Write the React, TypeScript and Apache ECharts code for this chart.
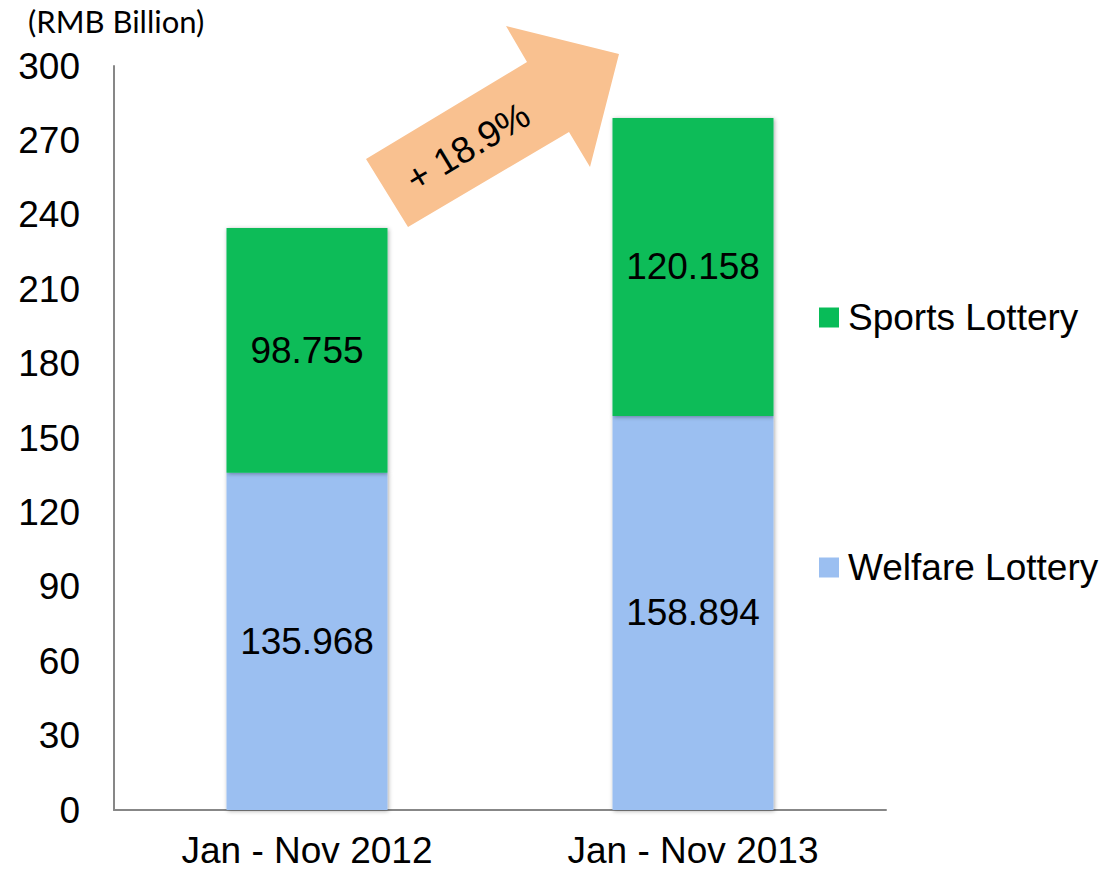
import React, { useEffect, useRef } from "react";
import * as echarts from "echarts";

const categories = ["Jan - Nov 2012", "Jan - Nov 2013"];
const welfareLottery = [135.968, 158.894];
const sportsLottery = [98.755, 120.158];
const yTicks = { min: 0, max: 300, interval: 30 };
const growthLabel = "+ 18.9%";
const unitLabel = "(RMB Billion)";

const GREEN = "#08bc58";
const BLUE = "#9bbff1";
const ORANGE = "#f9c190";
const AXIS = "#878787";
const FONT = "'Liberation Sans', Arial, sans-serif";
const FS = 37;

export default function App() {
  const ref = useRef<HTMLDivElement>(null);
  useEffect(() => {
    document.body.style.margin = "0";
    const chart = echarts.init(ref.current!, null, { renderer: "svg" });
    const barStyle = {
      shadowColor: "rgba(0,0,0,0.35)",
      shadowBlur: 4,
      shadowOffsetX: 1,
      shadowOffsetY: 1,
    };
    const label = {
      show: true,
      position: "inside",
      color: "#000",
      fontSize: FS,
      fontFamily: FONT,
      formatter: (p: any) => p.value.toFixed(3),
    };
    chart.setOption({
      animation: false,
      backgroundColor: "#fff",
      title: {
        text: unitLabel,
        left: 28,
        top: 5,
        padding: 0,
        textStyle: { fontFamily: "Lato, 'Open Sans', sans-serif", fontSize: 31, fontWeight: "normal", color: "#000" },
      },
      grid: { left: 114, right: 229, top: 66, bottom: 60 },
      legend: [
        {
          data: [{ name: "Sports Lottery", icon: "rect" }],
          left: 819,
          top: 299,
          orient: "vertical",
          itemWidth: 20,
          itemHeight: 20,
          padding: 0,
          textStyle: { fontSize: FS, fontFamily: FONT, color: "#000", padding: [0, 0, 0, 4] },
        },
        {
          data: [{ name: "Welfare Lottery", icon: "rect" }],
          left: 819,
          top: 549,
          orient: "vertical",
          itemWidth: 20,
          itemHeight: 20,
          padding: 0,
          textStyle: { fontSize: FS, fontFamily: FONT, color: "#000", padding: [0, 0, 0, 4] },
        },
      ],
      xAxis: {
        type: "category",
        data: categories,
        axisLine: { lineStyle: { color: AXIS, width: 2 } },
        axisTick: { show: false },
        axisLabel: { fontSize: FS, fontFamily: FONT, color: "#000", margin: 22, lineHeight: 37 },
      },
      yAxis: {
        type: "value",
        min: yTicks.min,
        max: yTicks.max,
        interval: yTicks.interval,
        axisLine: { show: true, lineStyle: { color: AXIS, width: 2 } },
        axisTick: { show: false },
        splitLine: { show: false },
        axisLabel: { fontSize: FS, fontFamily: FONT, color: "#000", margin: 34 },
      },
      series: [
        {
          name: "Welfare Lottery",
          type: "bar",
          stack: "total",
          data: welfareLottery,
          barWidth: "41.7%",
          itemStyle: { color: BLUE, ...barStyle },
          label,
        },
        {
          name: "Sports Lottery",
          type: "bar",
          stack: "total",
          data: sportsLottery,
          barWidth: "41.7%",
          itemStyle: { color: GREEN, ...barStyle },
          label,
        },
      ],
      graphic: [
        {
          type: "polygon",
          z: 10,
          shape: {
            points: [
              [366, 159],
              [527, 62],
              [506, 26],
              [619, 54],
              [590, 167],
              [569, 132],
              [408, 227],
            ],
          },
          style: { fill: ORANGE },
        },
        {
          type: "text",
          z: 11,
          x: 468,
          y: 147,
          rotation: (31 * Math.PI) / 180,
          style: {
            text: growthLabel,
            fontSize: FS,
            fontFamily: FONT,
            fill: "#000",
            align: "center",
            verticalAlign: "middle",
          },
        },
      ],
    });
    return () => chart.dispose();
  }, []);
  return <div ref={ref} style={{ position: "absolute", left: 0, top: 0, width: 1115, height: 870 }} />;
}
